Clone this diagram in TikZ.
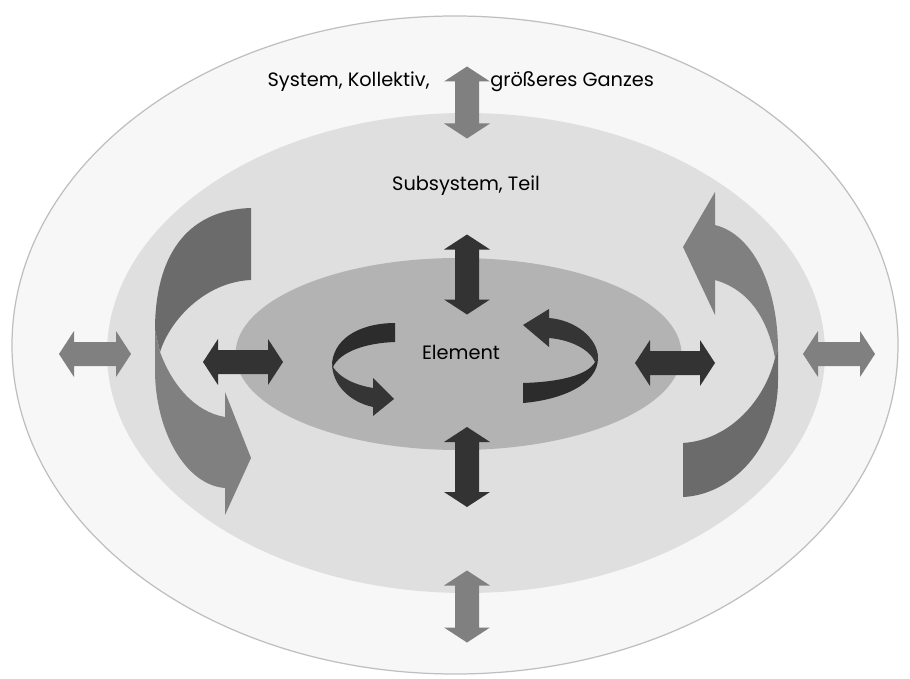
\documentclass[tikz,border=0pt]{standalone}
\usepackage{fontspec}
\setmainfont{Poppins}
\definecolor{outerfill}{HTML}{F7F7F7}
\definecolor{outerline}{HTML}{BFBFBF}
\definecolor{midfill}{HTML}{DFDFDF}
\definecolor{innerfill}{HTML}{B3B3B3}
\definecolor{greyarrow}{HTML}{808080}
\definecolor{darkarrow}{HTML}{333333}
\definecolor{ribbondark}{HTML}{6B6B6B}
\definecolor{ribbonlight}{HTML}{808080}
\definecolor{swirlA}{HTML}{2C2C2C}
\definecolor{swirlB}{HTML}{353535}
\tikzset{
  lbl/.style={inner sep=0pt, font=\fontsize{11}{13}\selectfont, text=black},
  greyblock/.style={fill=greyarrow},
  darkblock/.style={fill=darkarrow},
}
% block double arrow: #1 centre, #2 angle, #3 half length, #4 style
\newcommand\dblblock[4]{%
  \fill[#4, shift={#1}, rotate=#2]
    (-#3,0) -- (-#3+15,23) -- (-#3+15,12) -- (#3-15,12) -- (#3-15,23) -- (#3,0)
    -- (#3-15,-23) -- (#3-15,-12) -- (-#3+15,-12) -- (-#3+15,-23) -- cycle;}
\begin{document}
\begin{tikzpicture}[x=0.02cm, y=-0.02cm]
\useasboundingbox (0,0) rectangle (910,679);
\fill[white] (0,0) rectangle (910,679);

% nested levels
\filldraw[fill=outerfill, draw=outerline, line width=0.7pt] (455,345) ellipse [x radius=443, y radius=329];
\fill[midfill] (466,353) ellipse [x radius=359, y radius=240];
\fill[innerfill] (458.5,354) ellipse [x radius=223, y radius=96];

% labels
\node[lbl, anchor=base east] (sys) at (430,87) {System, Kollektiv,};
\node[lbl, anchor=base west] (ganz) at (490,87) {größeres Ganzes};
\node[lbl] (sub) at (466,186) {Subsystem, Teil};
\node[lbl] (elem) at (461,352) {Element};

% exchange between the levels
\dblblock{(467,102.5)}{90}{36}{greyblock}
\dblblock{(467,606.5)}{90}{36}{greyblock}
\dblblock{(95,354)}{0}{36}{greyblock}
\dblblock{(839,354)}{0}{36}{greyblock}
\dblblock{(467,274.5)}{90}{40}{darkblock}
\dblblock{(467,467)}{90}{40}{darkblock}
\dblblock{(243,362)}{0}{40}{darkblock}
\dblblock{(675,363)}{0}{40}{darkblock}

% left ribbon arrow
\fill[ribbondark] (251,208) .. controls (185,210) and (155,258) .. (155,330)
  -- (160,352) .. controls (170,320) and (205,282) .. (251,280) -- cycle;
\fill[ribbonlight] (155,330) -- (155,370) .. controls (155,430) and (185,485) .. (225,488)
  -- (225,515) -- (251,458) -- (225,392) -- (225,417)
  .. controls (195,412) and (172,385) .. (160,352) -- cycle;

% right ribbon arrow
\fill[ribbondark] (778,350) -- (778,380) .. controls (778,450) and (730,495) .. (683,497)
  -- (683,443) .. controls (730,440) and (765,400) .. (775,358) -- cycle;
\fill[ribbonlight] (715,225) .. controls (755,235) and (778,290) .. (778,350)
  -- (775,358) .. controls (768,320) and (750,290) .. (715,280)
  -- (715,315) -- (683,247) -- (715,192) -- cycle;

% element turning on itself: left swirl
\fill[swirlA] (395,323) .. controls (365,323) and (335,335) .. (332,363)
  -- (333,367) .. controls (340,352) and (365,343) .. (395,342) -- cycle;
\fill[swirlB] (332,363) .. controls (332,385) and (350,402) .. (373,407)
  -- (373,416) -- (394,399) -- (373,378) -- (373,388)
  .. controls (355,385) and (340,378) .. (333,367) -- cycle;

% right swirl
\fill[swirlB] (549,318) .. controls (575,320) and (598,338) .. (598,358)
  -- (595,362) .. controls (590,350) and (572,340) .. (549,338)
  -- (549,347) -- (523,325) -- (549,309) -- cycle;
\fill[swirlA] (598,358) .. controls (598,385) and (560,400) .. (523,403)
  -- (523,383) .. controls (560,382) and (588,375) .. (595,362) -- cycle;
\end{tikzpicture}
\end{document}
